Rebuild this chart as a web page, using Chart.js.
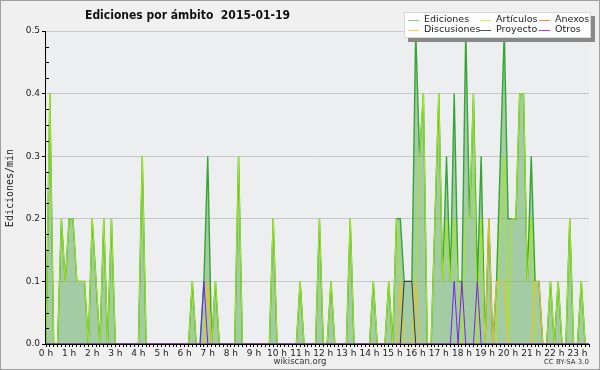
<!DOCTYPE html>
<html>
<head>
<meta charset="utf-8">
<script src="https://cdn.jsdelivr.net/npm/chart.js@4.4.0/dist/chart.umd.min.js"></script>
<style>
  html, body { margin: 0; padding: 0; background: #f0f0f0; }
  canvas { display: block; }
</style>
</head>
<body>
<canvas id="grafico" width="600" height="370"></canvas>
<script>
const titolo = 'Ediciones por ámbito  2015-01-19';
const titoloAsseY = 'Ediciones/min';
const oreAsse = ['0 h', '1 h', '2 h', '3 h', '4 h', '5 h', '6 h', '7 h', '8 h', '9 h', '10 h', '11 h',
                 '12 h', '13 h', '14 h', '15 h', '16 h', '17 h', '18 h', '19 h', '20 h', '21 h', '22 h', '23 h'];
const tickY = [0, 0.1, 0.2, 0.3, 0.4, 0.5];

// una colonna ogni 10 minuti (6 per ora)
const intervalli = ['00:00','00:10','00:20','00:30','00:40','00:50','01:00','01:10','01:20','01:30','01:40','01:50',
  '02:00','02:10','02:20','02:30','02:40','02:50','03:00','03:10','03:20','03:30','03:40','03:50',
  '04:00','04:10','04:20','04:30','04:40','04:50','05:00','05:10','05:20','05:30','05:40','05:50',
  '06:00','06:10','06:20','06:30','06:40','06:50','07:00','07:10','07:20','07:30','07:40','07:50',
  '08:00','08:10','08:20','08:30','08:40','08:50','09:00','09:10','09:20','09:30','09:40','09:50',
  '10:00','10:10','10:20','10:30','10:40','10:50','11:00','11:10','11:20','11:30','11:40','11:50',
  '12:00','12:10','12:20','12:30','12:40','12:50','13:00','13:10','13:20','13:30','13:40','13:50',
  '14:00','14:10','14:20','14:30','14:40','14:50','15:00','15:10','15:20','15:30','15:40','15:50',
  '16:00','16:10','16:20','16:30','16:40','16:50','17:00','17:10','17:20','17:30','17:40','17:50',
  '18:00','18:10','18:20','18:30','18:40','18:50','19:00','19:10','19:20','19:30','19:40','19:50',
  '20:00','20:10','20:20','20:30','20:40','20:50','21:00','21:10','21:20','21:30','21:40','21:50',
  '22:00','22:10','22:20','22:30','22:40','22:50','23:00','23:10','23:20','23:30'];

const ediciones = [
  0, 0.4, 0, 0, 0.2, 0.1, 0.2, 0.2, 0.1, 0.1, 0.1, 0,
  0.2, 0.1, 0, 0.2, 0, 0.2, 0, 0, 0, 0, 0, 0,
  0, 0.3, 0, 0, 0, 0, 0, 0, 0, 0, 0, 0,
  0, 0, 0.1, 0, 0, 0.1, 0.3, 0, 0.1, 0, 0, 0,
  0, 0, 0.3, 0, 0, 0, 0, 0, 0, 0, 0, 0.2,
  0, 0, 0, 0, 0, 0, 0.1, 0, 0, 0, 0, 0.2,
  0, 0, 0.1, 0, 0, 0, 0, 0.2, 0, 0, 0, 0,
  0, 0.1, 0, 0, 0, 0.1, 0, 0.2, 0.2, 0.1, 0.1, 0.1,
  0.5, 0.3, 0.4, 0, 0, 0.2, 0.4, 0.1, 0.3, 0.1, 0.4, 0.1,
  0.1, 0.5, 0.2, 0.4, 0.1, 0.3, 0, 0.2, 0, 0.1, 0.3, 0.5,
  0.2, 0.2, 0.2, 0.4, 0.4, 0.1, 0.3, 0.1, 0.1, 0, 0, 0.1,
  0, 0.1, 0, 0, 0.2, 0, 0, 0.1, 0, 0];
const articulos = [
  0, 0.4, 0, 0, 0.2, 0.1, 0.2, 0.2, 0.1, 0.1, 0.1, 0,
  0.2, 0.1, 0, 0.2, 0, 0.2, 0, 0, 0, 0, 0, 0,
  0, 0.3, 0, 0, 0, 0, 0, 0, 0, 0, 0, 0,
  0, 0, 0.1, 0, 0, 0, 0.1, 0, 0.1, 0, 0, 0,
  0, 0, 0.3, 0, 0, 0, 0, 0, 0, 0, 0, 0.2,
  0, 0, 0, 0, 0, 0, 0.1, 0, 0, 0, 0, 0.2,
  0, 0, 0.1, 0, 0, 0, 0, 0.2, 0, 0, 0, 0,
  0, 0.1, 0, 0, 0, 0.1, 0, 0.2, 0.1, 0, 0, 0,
  0.1, 0.3, 0.4, 0, 0, 0.2, 0.4, 0.1, 0.2, 0.1, 0.2, 0.1,
  0, 0.2, 0.2, 0.4, 0, 0.2, 0, 0, 0, 0, 0.2, 0.3,
  0, 0.2, 0.2, 0.4, 0.4, 0.1, 0.2, 0, 0, 0, 0, 0.1,
  0, 0.1, 0, 0, 0.2, 0, 0, 0.1, 0, 0];
const anexos = [
  0, 0, 0, 0, 0, 0, 0, 0, 0, 0, 0, 0,
  0, 0, 0, 0, 0, 0, 0, 0, 0, 0, 0, 0,
  0, 0, 0, 0, 0, 0, 0, 0, 0, 0, 0, 0,
  0, 0, 0, 0, 0, 0, 0, 0, 0, 0, 0, 0,
  0, 0, 0, 0, 0, 0, 0, 0, 0, 0, 0, 0,
  0, 0, 0, 0, 0, 0, 0, 0, 0, 0, 0, 0,
  0, 0, 0, 0, 0, 0, 0, 0, 0, 0, 0, 0,
  0, 0, 0, 0, 0, 0, 0, 0, 0, 0, 0, 0,
  0, 0, 0, 0, 0, 0, 0, 0, 0, 0, 0, 0,
  0, 0, 0, 0, 0, 0, 0, 0, 0, 0, 0, 0,
  0, 0, 0, 0, 0, 0, 0, 0, 0, 0, 0, 0,
  0, 0, 0, 0, 0, 0, 0, 0, 0, 0];
const discusiones = [
  0, 0, 0, 0, 0, 0, 0, 0, 0, 0, 0, 0,
  0, 0, 0, 0, 0, 0, 0, 0, 0, 0, 0, 0,
  0, 0, 0, 0, 0, 0, 0, 0, 0, 0, 0, 0,
  0, 0, 0, 0, 0, 0, 0.1, 0, 0, 0, 0, 0,
  0, 0, 0, 0, 0, 0, 0, 0, 0, 0, 0, 0,
  0, 0, 0, 0, 0, 0, 0, 0, 0, 0, 0, 0,
  0, 0, 0, 0, 0, 0, 0, 0, 0, 0, 0, 0,
  0, 0, 0, 0, 0, 0, 0, 0, 0.1, 0, 0, 0,
  0.1, 0, 0, 0, 0, 0, 0, 0, 0, 0, 0, 0,
  0, 0, 0, 0, 0, 0, 0, 0.2, 0, 0.1, 0.1, 0.1,
  0, 0, 0, 0, 0, 0, 0, 0.1, 0.1, 0, 0, 0,
  0, 0, 0, 0, 0, 0, 0, 0, 0, 0];
const proyecto = [
  0, 0, 0, 0, 0, 0, 0, 0, 0, 0, 0, 0,
  0, 0, 0, 0, 0, 0, 0, 0, 0, 0, 0, 0,
  0, 0, 0, 0, 0, 0, 0, 0, 0, 0, 0, 0,
  0, 0, 0, 0, 0, 0, 0, 0, 0, 0, 0, 0,
  0, 0, 0, 0, 0, 0, 0, 0, 0, 0, 0, 0,
  0, 0, 0, 0, 0, 0, 0, 0, 0, 0, 0, 0,
  0, 0, 0, 0, 0, 0, 0, 0, 0, 0, 0, 0,
  0, 0, 0, 0, 0, 0, 0, 0, 0, 0.1, 0.1, 0.1,
  0, 0, 0, 0, 0, 0, 0, 0, 0, 0, 0, 0,
  0, 0, 0, 0, 0, 0, 0, 0, 0, 0, 0, 0,
  0, 0, 0, 0, 0, 0, 0, 0, 0, 0, 0, 0,
  0, 0, 0, 0, 0, 0, 0, 0, 0, 0];
const otros = [
  0, 0, 0, 0, 0, 0, 0, 0, 0, 0, 0, 0,
  0, 0, 0, 0, 0, 0, 0, 0, 0, 0, 0, 0,
  0, 0, 0, 0, 0, 0, 0, 0, 0, 0, 0, 0,
  0, 0, 0, 0, 0, 0.1, 0, 0, 0, 0, 0, 0,
  0, 0, 0, 0, 0, 0, 0, 0, 0, 0, 0, 0,
  0, 0, 0, 0, 0, 0, 0, 0, 0, 0, 0, 0,
  0, 0, 0, 0, 0, 0, 0, 0, 0, 0, 0, 0,
  0, 0, 0, 0, 0, 0, 0, 0, 0, 0, 0, 0,
  0, 0, 0, 0, 0, 0, 0, 0, 0, 0, 0.1, 0,
  0.1, 0, 0, 0, 0.1, 0, 0, 0, 0, 0, 0, 0,
  0, 0, 0, 0, 0, 0, 0, 0, 0, 0, 0, 0,
  0, 0, 0, 0, 0, 0, 0, 0, 0, 0];

// legenda: 3 colonne x 2 righe, come nell'originale
const legenda = [
  { testo: 'Ediciones',   colore: '#8acb8a', col: 0, riga: 0 },
  { testo: 'Artículos',   colore: '#ccee66', col: 1, riga: 0 },
  { testo: 'Anexos',      colore: '#ee8855', col: 2, riga: 0 },
  { testo: 'Discusiones', colore: '#ffcc44', col: 0, riga: 1 },
  { testo: 'Proyecto',    colore: '#555555', col: 1, riga: 1 },
  { testo: 'Otros',       colore: '#9944ee', col: 2, riga: 1 }
];

function creaSerie(label, dati, colore, ordine, larghezza) {
    return {
        label: label,
        data: dati,
        borderColor: colore,
        borderWidth: larghezza,
        pointRadius: 0,
        tension: 0,
        fill: false,
        order: ordine
    };
}

const serieEdiciones = creaSerie('Ediciones', ediciones, '#35a535', 10, 1.4);
serieEdiciones.fill = 'origin';
serieEdiciones.backgroundColor = 'rgba(90, 170, 90, 0.5)';

const sfondo = {
    id: 'sfondo',
    beforeDraw(chart) {
        const ctx = chart.ctx;
        const a = chart.chartArea;
        ctx.save();
        ctx.fillStyle = '#f0f0f0';
        ctx.fillRect(0, 0, chart.width, chart.height);
        ctx.fillStyle = '#eceef0';
        ctx.fillRect(a.left, a.top, a.right - a.left, a.bottom - a.top);
        ctx.restore();
    },
    afterDraw(chart) {
        const ctx = chart.ctx;
        const a = chart.chartArea;
        const y = chart.scales.y;
        ctx.save();

        // asse y e tacche minori (verso l'interno)
        ctx.strokeStyle = '#000';
        ctx.lineWidth = 1;
        ctx.beginPath();
        ctx.moveTo(a.left - 0.5, a.top);
        ctx.lineTo(a.left - 0.5, a.bottom);
        for (let v = 0.025; v < 0.5; v += 0.025) {
            if (Math.abs(v * 10 - Math.round(v * 10)) < 0.001) continue;
            const py = Math.round(y.getPixelForValue(v)) + 0.5;
            ctx.moveTo(a.left, py);
            ctx.lineTo(a.left + 3, py);
        }
        ctx.stroke();

        // titolo (leggermente condensato)
        ctx.save();
        ctx.fillStyle = '#111';
        ctx.font = 'bold 12px "DejaVu Sans"';
        ctx.textBaseline = 'middle';
        ctx.textAlign = 'left';
        ctx.scale(0.9, 1);
        ctx.fillText(titolo, 85 / 0.9, 16);
        ctx.restore();

        // titolo asse y
        ctx.save();
        ctx.translate(10, 188);
        ctx.rotate(-Math.PI / 2);
        ctx.font = '10px "DejaVu Sans Mono"';
        ctx.textAlign = 'center';
        ctx.textBaseline = 'middle';
        ctx.fillStyle = '#222';
        ctx.fillText(titoloAsseY, 0, 0);
        ctx.restore();

        // piè di pagina
        ctx.textBaseline = 'middle';
        ctx.font = '8.5px "DejaVu Sans"';
        ctx.textAlign = 'center';
        ctx.fillStyle = '#333';
        ctx.fillText('wikiscan.org', 300, 362);
        ctx.font = '7px "DejaVu Sans"';
        ctx.textAlign = 'right';
        ctx.fillText('CC BY-SA 3.0', 589, 362);

        // legenda con ombra
        const lx = 404, ly = 12, lw = 187, lh = 26;
        ctx.fillStyle = '#888';
        ctx.fillRect(lx + 4, ly + 4, lw, lh);
        ctx.fillStyle = '#fdfdfd';
        ctx.fillRect(lx, ly, lw, lh);
        ctx.strokeStyle = '#d8d8d8';
        ctx.strokeRect(lx + 0.5, ly + 0.5, lw - 1, lh - 1);
        const colX = [408, 480, 539];
        ctx.font = '9.5px "DejaVu Sans"';
        ctx.textAlign = 'left';
        legenda.forEach(v => {
            const x = colX[v.col];
            const yy = ly + 8 + v.riga * 10;
            ctx.strokeStyle = v.colore;
            ctx.beginPath();
            ctx.moveTo(x, yy + 0.5);
            ctx.lineTo(x + 11, yy + 0.5);
            ctx.stroke();
            ctx.fillStyle = '#222';
            ctx.fillText(v.testo, x + 16, yy);
        });

        // bordo immagine
        ctx.strokeStyle = '#a0a0a0';
        ctx.strokeRect(0.5, 0.5, chart.width - 1, chart.height - 1);
        ctx.restore();
    }
};

const ctxGrafico = document.getElementById('grafico').getContext('2d');
const grafico = new Chart(ctxGrafico, {
    type: 'line',
    data: {
        labels: intervalli,
        datasets: [
            serieEdiciones,
            creaSerie('Artículos', articulos, '#a8e81c', 6, 1),
            creaSerie('Anexos', anexos, '#ee8855', 5, 1),
            creaSerie('Discusiones', discusiones, '#f0c020', 4, 1),
            creaSerie('Proyecto', proyecto, '#333333', 3, 1),
            creaSerie('Otros', otros, '#7a22ee', 2, 1)
        ]
    },
    options: {
        responsive: false,
        animation: false,
        devicePixelRatio: 1,
        layout: { padding: { top: 31, right: 11, left: 0, bottom: 0 } },
        plugins: {
            legend: { display: false },
            title: { display: false },
            tooltip: { enabled: false }
        },
        scales: {
            x: {
                z: 1,
                offset: false,
                border: { color: '#000', width: 1 },
                grid: { drawOnChartArea: false, tickLength: 3, tickColor: '#000' },
                ticks: {
                    autoSkip: false,
                    maxRotation: 0,
                    padding: 1,
                    color: '#222',
                    font: { family: 'DejaVu Sans', size: 9 },
                    callback: (val, i) => (i % 6 === 0 ? oreAsse[i / 6] : '')
                },
                afterFit: (scala) => { scala.height = 26; }
            },
            y: {
                min: 0,
                max: 0.5,
                border: { display: false },
                grid: { color: '#c8c8c8', tickColor: '#000', tickLength: 4 },
                afterBuildTicks: (scala) => { scala.ticks = tickY.map(v => ({ value: v })); },
                ticks: {
                    padding: 2,
                    color: '#222',
                    font: { family: 'DejaVu Sans', size: 9 },
                    callback: (v) => v.toFixed(1)
                },
                afterFit: (scala) => { scala.width = 46; }
            }
        }
    },
    plugins: [sfondo]
});
</script>
</body>
</html>
